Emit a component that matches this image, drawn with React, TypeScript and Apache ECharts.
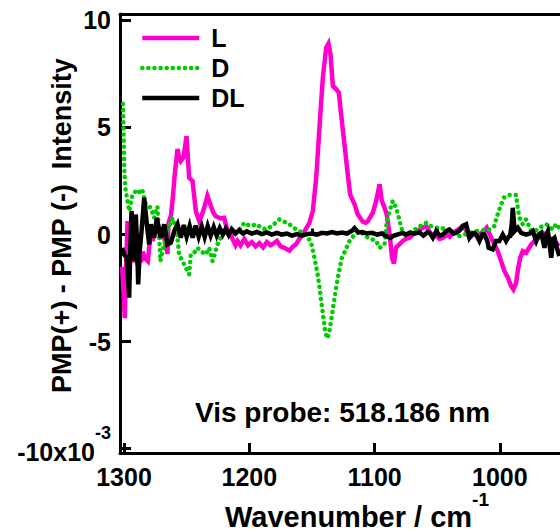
import React, { useEffect, useRef } from "react";
import * as echarts from "echarts";

const FONT = "'Liberation Sans', Arial, Helvetica, sans-serif";

const seriesNames = ["L", "D", "DL"];
const seriesColors = ["#ff00cc", "#00cc00", "#000000"];

const xTickValues = [1000, 1100, 1200, 1300];
const xMinorTickValues = [1050, 1150, 1250];
const yTickValues = [-10, -5, 0, 5, 10];

const L_DATA: [number, number][] = [
  [1301.5, -1.5], [1300.5, -2.5], [1299.4, -3.9], [1298.5, -2.0], [1297.2, 0.63], [1296, -0.3],
  [1295, -0.77], [1293.5, -0.5], [1292.5, -1.3], [1291, -0.6], [1289.5, -1.4], [1288, -0.7],
  [1286.5, -1.3], [1285, -0.8], [1283.5, -1.1], [1281, -1.24], [1278.6, 0.16], [1277, -0.3],
  [1275.5, 0.3], [1273, 0.5], [1271, -0.2], [1269, 0.2], [1267, -0.4], [1265.3, -0.9],
  [1264.5, 0.55], [1262.5, 0.9], [1261.3, 1.57], [1259.5, 2.8], [1257.3, 4.0], [1256, 3.6],
  [1254.7, 3.43], [1252.5, 3.6], [1250.1, 4.6], [1248, 2.65], [1245.3, 2.5], [1242.7, 1.1],
  [1240, 0.63], [1238, 0.9], [1236, 1.25], [1233.4, 1.8], [1230.7, 1.33], [1228.5, 1.0],
  [1226.7, 0.86], [1223, 0.75], [1220, 0.78], [1217.4, 0.16], [1215, 0.1], [1213.4, -0.2],
  [1211, -0.5], [1209.4, -0.3], [1207, -0.5], [1204, -0.2], [1201, -0.5], [1198, -0.35],
  [1195, -0.55], [1192, -0.4], [1189, -0.6], [1186, -0.35], [1183, -0.5], [1181.5, -0.45],
  [1178, -0.3], [1175, -0.55], [1171, -0.65], [1168, -0.75], [1165, -0.55], [1162.6, -0.45],
  [1160, -0.2], [1157.3, 0], [1154.5, 0.3], [1152, 0.55], [1149.3, 1.1], [1146.6, 2.65],
  [1144, 5.0], [1141.3, 7.33], [1138.6, 8.73], [1136.8, 8.92], [1135.2, 8.42], [1133.3, 6.94],
  [1130.6, 6.78], [1128.5, 6.63], [1126.7, 5.62], [1124, 4.2], [1121.4, 2.8], [1119.5, 1.88],
  [1116, 1.41], [1113.4, 0.94], [1109.4, 0.6], [1107, 0.55], [1105.4, 0.63], [1101.4, 1.02],
  [1098.7, 1.57], [1096, 2.35], [1094.2, 1.57], [1092, 1.25], [1090.3, 0.94], [1088, 0],
  [1086, -1.1], [1084.5, -1.35], [1082.8, -0.6], [1080, -0.45], [1077.5, -0.3], [1075, -0.2],
  [1072, -0.15], [1069.5, 0], [1067, 0.1], [1063.8, 0.24], [1061.5, 0.32], [1058.8, 0.4],
  [1056, 0.1], [1053.5, -0.07], [1050.8, -0.07], [1048, -0.2], [1045.6, -0.15], [1042, 0.0],
  [1040, -0.1], [1037.6, 0.08], [1034, 0.2], [1029.6, 0.4], [1027, 0.2], [1024.3, -0.15],
  [1020, 0.05], [1016.3, 0], [1013, 0.15], [1010.5, 0.32], [1008, 0.0], [1005.7, -0.3],
  [1001.7, -0.77], [999, -1.24], [996.4, -1.7], [993.7, -2.0], [991, -2.4], [989.2, -2.56],
  [987, -2.25], [985.7, -1.7], [983.8, -1.08], [981.7, -0.77], [979, -0.85], [975, -0.46],
  [971, -0.22], [968, -0.1], [965.8, 0.08], [963, -0.05], [960.4, -0.15], [957.5, -0.3],
  [955, -0.5], [952.5, -0.4],
];

const D_DATA: [number, number][] = [
  [1300.8, 6.1], [1300.3, 4.7], [1299.8, 3.1], [1299, 2.2], [1297.2, 1.57], [1295.8, 1.1],
  [1294.5, 1.5], [1293.2, 1.89], [1291, 2.0], [1289.2, 2.1], [1287, 1.9], [1285.2, 2.03],
  [1282.6, 1.41], [1278.6, 1.25], [1275.9, 0.78], [1274.5, 1.2], [1273.3, 1.3], [1271.9, -0.15],
  [1271, -1.24], [1269.3, -0.77], [1266.6, -0.15], [1264, 0.4], [1261.3, 0.78], [1259, 0.3],
  [1257.3, -0.15], [1256, -0.93], [1253.3, -1.24], [1250.7, -1.55], [1248, -1.86], [1246.7, -0.93],
  [1244, -0.85], [1241.3, -0.62], [1238.7, -0.77], [1234.7, -0.93], [1232, -0.62], [1229.4, -1.24],
  [1227, -0.8], [1225.4, -0.46], [1222.7, -0.15], [1218.8, 0.16], [1214.8, 0.08], [1209.4, 0.16],
  [1206, 0.35], [1204, 0.55], [1202.5, 0.48], [1198, 0.4], [1194.5, 0.49], [1190, 0.3],
  [1186.5, 0.24], [1182, 0.4], [1178, 0.6], [1175.9, 0.71], [1172, 0.6], [1168, 0.48],
  [1164, 0.3], [1160, 0.16], [1154.6, 0], [1150.6, -0.38], [1148, -1.08], [1145, -2.0],
  [1141.7, -3.5], [1139.2, -4.6], [1137.6, -4.85], [1136, -4.5], [1133.4, -3.5], [1131, -2.6],
  [1128.6, -1.8], [1126.2, -1.1], [1123.8, -0.8], [1120, -0.3], [1116, 0], [1112, 0.16],
  [1108, 0.0], [1105.4, -0.15], [1098.7, -0.3], [1096, -0.62], [1092, -0.45], [1090.3, 0.63],
  [1088, 1.1], [1085.5, 1.57], [1082.8, 1.25], [1080.6, 0.78], [1078.8, 0.32], [1076, 0],
  [1069.5, 0.16], [1065, 0.35], [1058.8, 0.55], [1055, 0.4], [1050.8, 0.32], [1046, 0.3],
  [1043, 0.24], [1038, 0.1], [1032.2, -0.07], [1026, 0.05], [1018.9, 0.16], [1013, 0.2],
  [1008.3, 0.24], [1004.3, 0.4], [1003, 0.71], [1000.9, 1.1], [999, 1.41], [996.4, 1.75],
  [992.3, 1.85], [987, 1.85], [985.7, 1.25], [984.4, 0.78], [981.7, 0.48], [979, 0.71],
  [975, 0.16], [971, 0.2], [968.4, 0.32], [963, 0.48], [957.8, 0.24], [955, 0.5], [952.5, 0.3],
];

const DL_DATA: [number, number][] = [
  [1301.5, -0.62], [1300, -0.93], [1297.8, -1.08], [1296.8, -2.0], [1295.9, -2.95], [1295, -0.8],
  [1294, 1.1], [1292.7, 0.16], [1291.4, -1.24], [1290.6, 0.94], [1289.5, -0.5], [1288.7, -2.33],
  [1287.5, -0.8], [1286, 0.16], [1283.9, 1.72], [1281.8, 0.48], [1279.9, -0.46], [1278.6, 0.48],
  [1275.9, -0.15], [1273.8, 0.78], [1271.9, 0.16], [1270.6, -0.15], [1267.9, 0.48], [1265.3, -0.46],
  [1262.6, -0.38], [1259.9, 0.16], [1257.3, 0.48], [1254.7, -0.15], [1252.3, 0.45], [1250, -0.1],
  [1247.6, 0.4], [1245.2, -0.15], [1242.8, 0.42], [1240.4, -0.1], [1238, 0.38], [1235.6, -0.12],
  [1233.2, 0.4], [1230.8, -0.05], [1228.4, 0.35], [1226, -0.05], [1223.6, 0.3], [1221.2, 0.0],
  [1218.8, 0.28], [1216.4, -0.02], [1214, 0.25], [1211, 0.05], [1208, 0.2], [1205, 0.05],
  [1202, 0.15], [1198, 0.05], [1194, 0.12], [1190, 0.02], [1186, 0.1], [1182, 0.0],
  [1178, 0.08], [1174, 0.0], [1170, 0.05], [1166, -0.05], [1162, 0.02], [1158, -0.05],
  [1154, 0.02], [1150, 0.05], [1146, 0.0], [1142, 0.08], [1138, 0.05], [1134, 0.12],
  [1130, 0.05], [1126, 0.1], [1122, 0.05], [1118, 0.18], [1116, 0.3], [1113, 0.1],
  [1110, 0.12], [1106, 0.05], [1102, 0.08], [1098, 0.0], [1094, 0.05], [1090, -0.1],
  [1087, -0.15], [1085.5, -0.07], [1082, 0.0], [1077.5, 0.08], [1075, 0.0], [1072, 0.08],
  [1068, 0.05], [1064, 0.1], [1061, -0.05], [1058, 0.1], [1056, 0.08], [1053.5, -0.15],
  [1050.8, 0.16], [1048, -0.05], [1045.6, 0.0], [1043, 0.15], [1040.3, 0.24], [1037, 0.05],
  [1034.9, 0.08], [1032, 0.2], [1029.6, 0.4], [1026.9, 0.48], [1024.3, -0.15], [1022, 0.05],
  [1020.3, 0.08], [1018, -0.1], [1016.3, -0.3], [1014, 0.0], [1012.3, 0.0], [1010, -0.3],
  [1008.9, -0.62], [1005.7, -0.69], [1003, -0.3], [1000.4, -0.3], [997.7, 0.0], [995, -0.3],
  [993, -0.1], [991.8, -0.07], [990.5, 0.5], [989.7, 1.25], [988.8, 0.6], [988.3, 0.16],
  [985.7, 0.32], [983, 0.08], [979, 0.0], [976, 0.05], [973.7, 0.16], [971, -0.3],
  [969, 0.0], [967, 0.08], [964.4, -0.62], [963, 0.0], [961.7, 0.16], [959, -1.08],
  [957.5, -0.2], [956.4, -0.15], [955, -0.5], [953.7, -0.77], [952.5, -1.0],
];

const seriesData = [L_DATA, D_DATA, DL_DATA];

export default function App() {
  const ref = useRef<HTMLDivElement>(null);

  useEffect(() => {
    if (!ref.current) return;
    const chart = echarts.init(ref.current, null, { renderer: "svg" });
    const axisLineStyle = { color: "#000", width: 3 };
    const labelBase = { color: "#000", fontFamily: FONT, fontWeight: "bold" as const };

    chart.setOption({
      animation: false,
      backgroundColor: "#fff",
      textStyle: { fontFamily: FONT },
      grid: { left: 120, right: 0, top: 14, bottom: 78, containLabel: false, outerBoundsMode: "none" },
      legend: {
        data: seriesNames,
        orient: "vertical",
        left: 140,
        top: 23,
        padding: 0,
        itemWidth: 57,
        itemHeight: 14,
        itemGap: 0,
        itemStyle: { opacity: 0 },
        lineStyle: { width: 4.5 },
        textStyle: { ...labelBase, fontSize: 25, lineHeight: 30, padding: [0, 0, 0, 7] },
      },
      xAxis: [
        {
          type: "value",
          min: 952,
          max: 1303.2,
          inverse: true,
          position: "bottom",
          axisLine: { show: true, onZero: false, lineStyle: axisLineStyle },
          axisTick: { show: true, inside: true, length: 10, customValues: xTickValues, lineStyle: axisLineStyle },
          axisLabel: {
            ...labelBase,
            fontSize: 25,
            lineHeight: 24,
            margin: 12,
            customValues: xTickValues,
            formatter: (v: number) => String(v),
          },
          splitLine: { show: false },
          name: "{a|Wavenumber / cm}{s|-1}",
          nameLocation: "middle",
          nameGap: 37,
          nameMoveOverlap: false,
          nameTextStyle: {
            padding: [0, 0, 0, 34],
            rich: {
              a: { ...labelBase, fontSize: 29, lineHeight: 27, padding: [12, 0, 0, 0], verticalAlign: "top" },
              s: { ...labelBase, fontSize: 19, lineHeight: 19, verticalAlign: "top" },
            },
          },
        },
        {
          type: "value",
          min: 952,
          max: 1303.2,
          inverse: true,
          position: "bottom",
          axisLine: { show: false },
          axisTick: { show: true, inside: true, length: 6, customValues: xMinorTickValues, lineStyle: axisLineStyle },
          axisLabel: { show: false },
          splitLine: { show: false },
        },
        {
          type: "value",
          min: 952,
          max: 1303.2,
          inverse: true,
          position: "top",
          axisLine: { show: true, onZero: false, lineStyle: axisLineStyle },
          axisTick: { show: false },
          axisLabel: { show: false },
          splitLine: { show: false },
        },
      ],
      yAxis: {
        type: "value",
        min: -10.2,
        max: 10.3,
        axisLine: { show: true, onZero: false, lineStyle: axisLineStyle },
        axisTick: { show: true, inside: true, length: 11, customValues: yTickValues, lineStyle: axisLineStyle },
        axisLabel: {
          ...labelBase,
          fontSize: 25,
          margin: 9,
          customValues: yTickValues,
          formatter: (v: number) => (v === -10 ? "{b|-10x10}{s|-3}" : String(v)),
          rich: {
            b: { ...labelBase, fontSize: 25, lineHeight: 26, padding: [16, 0, 0, 0], verticalAlign: "top" },
            s: { ...labelBase, fontSize: 18, lineHeight: 50, verticalAlign: "top" },
          },
        },
        splitLine: { show: false },
        name: "PMP(+) - PMP (-)  Intensity",
        nameLocation: "middle",
        nameGap: 45,
        nameMoveOverlap: false,
        nameTextStyle: { ...labelBase, fontSize: 27, padding: [0, 0, 0, 16] },
      },
      graphic: [
        {
          type: "text",
          left: 195,
          top: 398,
          silent: true,
          style: {
            text: "Vis probe: 518.186 nm",
            fill: "#000",
            font: `bold 28px ${FONT}`,
          },
        },
      ],
      series: seriesNames.map((name, i) => ({
        name,
        type: "line",
        xAxisIndex: 0,
        yAxisIndex: 0,
        data: seriesData[i],
        showSymbol: false,
        symbol: "none",
        clip: true,
        z: 2 + i,
        lineStyle:
          name === "D"
            ? { color: seriesColors[i], width: 4.5, type: [0.1, 6], cap: "round" }
            : { color: seriesColors[i], width: 4.5, join: "miter" },
        itemStyle: { color: seriesColors[i], opacity: 0 },
      })),
    });

    return () => chart.dispose();
  }, []);

  return (
    <div
      ref={ref}
      style={{ position: "fixed", left: 0, top: 0, width: 560, height: 531, background: "#fff" }}
    />
  );
}
